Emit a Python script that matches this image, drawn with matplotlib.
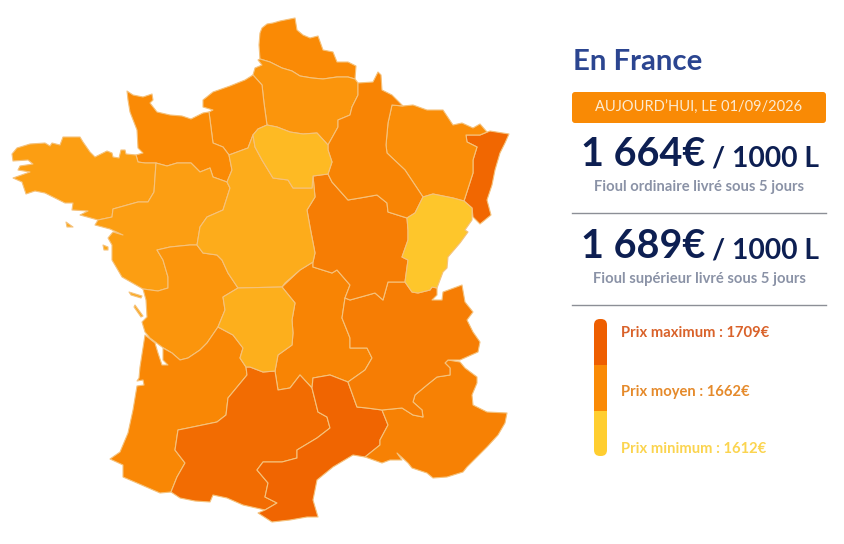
import matplotlib
matplotlib.use("Agg")
import matplotlib.pyplot as plt
from matplotlib.colors import LinearSegmentedColormap, Normalize
from matplotlib.patches import FancyBboxPatch, Polygon, Rectangle

plt.rcParams["font.family"] = ["Lato", "DejaVu Sans"]

nord = [(260,33),(262,28),(267,24),(273,23),(280,21),(295,18),(297,30),(303,35),(310,38),(318,36),(323,50),(333,52),(337,62),(348,62),(356,66),(355,79),(348,77),(337,77),(323,79),(312,78),(300,76),(292,71),(282,68),(270,62),(260,59),(259,45)]
picardie = [(258,60),(260,59),(270,62),(282,68),(292,71),(300,76),(312,78),(323,79),(337,77),(348,77),(355,79),(358,83),(358,95),(352,107),(350,115),(338,120),(338,127),(328,145),(317,133),(303,134),(290,132),(277,127),(267,125),(264,103),(262,85),(253,75),(255,68),(262,65)]
idf = [(253,135),(258,129),(267,125),(277,127),(290,132),(303,134),(317,133),(328,145),(328,150),(332,162),(328,174),(313,176),(312,188),(293,188),(288,180),(273,178),(262,160),(255,147)]
haute_normandie = [(253,75),(245,80),(230,86),(213,92),(203,100),(203,107),(213,110),(209,112),(213,143),(223,147),(229,155),(248,148),(253,135),(258,129),(267,125),(264,103),(262,85)]
basse_normandie = [(127,91),(133,95),(143,97),(152,94),(153,100),(150,103),(157,112),(170,115),(182,116),(191,119),(203,113),(209,112),(213,143),(223,147),(229,155),(232,170),(227,182),(213,177),(210,168),(200,172),(191,163),(177,163),(167,166),(156,163),(145,163),(138,162),(136,155),(143,153),(138,148),(137,130),(130,112),(128,100)]
bretagne = [(136,155),(126,154),(125,150),(121,150),(119,158),(113,157),(112,153),(107,151),(95,157),(90,152),(83,142),(80,137),(72,137),(63,137),(60,145),(52,143),(50,146),(45,143),(30,144),(17,148),(12,154),(13,161),(28,160),(33,164),(20,166),(18,170),(30,172),(13,178),(22,182),(26,194),(35,191),(45,193),(55,198),(65,203),(73,203),(72,210),(88,211),(80,215),(98,220),(112,217),(113,209),(138,202),(148,202),(154,192),(156,163),(145,163),(138,162)]
belle_ile = [(66,222),(73,227),(67,227)]
noirmoutier = [(103,245),(108,247),(108,250),(104,250)]
ile_re = [(129,292),(142,296),(141,298),(131,295)]
oleron = [(135,305),(143,316),(141,317),(134,307)]
pays_de_loire = [(98,220),(95,225),(110,229),(123,235),(113,232),(108,238),(112,245),(112,260),(122,277),(143,289),(158,291),(168,288),(168,277),(163,260),(157,250),(170,247),(190,245),(197,245),(200,227),(207,217),(223,210),(230,188),(227,182),(213,177),(210,168),(200,172),(191,163),(177,163),(167,166),(156,163),(154,192),(148,202),(138,202),(113,209),(112,217)]
centre = [(229,155),(248,148),(253,135),(255,147),(262,160),(273,178),(288,180),(293,188),(312,188),(313,176),(315,197),(307,210),(310,227),(315,253),(313,262),(300,270),(285,283),(282,287),(238,288),(228,273),(222,260),(217,255),(203,253),(197,245),(200,227),(207,217),(223,210),(230,188),(227,182),(232,170)]
poitou = [(143,289),(158,291),(168,288),(168,277),(163,260),(157,250),(170,247),(190,245),(197,245),(203,253),(217,255),(222,260),(228,273),(238,288),(223,297),(225,310),(218,327),(207,343),(200,350),(188,358),(180,360),(172,353),(162,347),(150,338),(145,332),(142,322),(147,317),(146,300)]
aquitaine = [(145,335),(140,367),(139,378),(137,381),(143,380),(144,385),(137,386),(133,410),(128,433),(120,452),(110,459),(123,465),(123,477),(137,483),(160,493),(171,492),(177,477),(185,463),(175,450),(178,430),(188,428),(217,422),(226,415),(228,398),(247,375),(246,367),(240,358),(243,348),(233,335),(218,327),(207,343),(200,350),(188,358),(180,360),(172,353),(163,348),(163,360),(168,365),(162,365),(158,353),(155,343)]
limousin = [(238,288),(282,287),(295,303),(292,320),(293,333),(292,345),(278,355),(275,371),(263,372),(250,367),(246,367),(240,358),(243,348),(233,335),(218,327),(225,310),(223,297)]
auvergne = [(282,287),(300,270),(313,262),(313,267),(332,273),(337,270),(350,285),(345,298),(342,318),(350,338),(350,348),(367,348),(372,358),(365,370),(348,382),(330,375),(313,378),(312,388),(300,375),(290,388),(278,390),(275,371),(278,355),(292,345),(293,333),(292,320),(295,303)]
midi_pyrenees = [(246,367),(250,367),(263,372),(275,371),(278,390),(290,388),(300,375),(312,388),(318,412),(327,417),(330,428),(317,438),(297,450),(297,458),(282,462),(263,462),(257,470),(268,483),(265,497),(277,503),(265,510),(243,505),(227,498),(213,495),(210,502),(195,501),(180,498),(171,492),(177,477),(185,463),(175,450),(178,430),(188,428),(217,422),(226,415),(228,398),(247,375)]
languedoc = [(312,388),(313,378),(330,375),(348,382),(357,407),(367,408),(382,410),(388,425),(380,440),(380,445),(365,457),(353,455),(333,467),(317,480),(313,500),(318,517),(307,517),(290,520),(272,522),(258,513),(265,510),(277,503),(265,497),(268,483),(257,470),(263,462),(282,462),(297,458),(297,450),(317,438),(330,428),(327,417),(318,412)]
paca = [(382,410),(402,408),(413,415),(423,417),(422,410),(413,402),(415,395),(427,385),(437,377),(450,375),(450,368),(445,363),(448,360),(460,362),(465,368),(477,377),(477,383),(472,395),(473,405),(487,412),(507,413),(505,423),(498,435),(487,447),(477,457),(467,467),(463,472),(447,477),(433,478),(427,473),(412,468),(408,463),(397,453),(402,460),(390,460),(382,463),(365,457),(380,445),(380,440),(388,425)]
rhone_alpes = [(345,298),(350,300),(368,295),(375,293),(383,300),(388,282),(405,282),(412,292),(418,293),(430,290),(432,287),(437,288),(437,295),(432,300),(442,300),(443,292),(462,285),(465,302),(473,312),(467,320),(473,332),(480,342),(478,352),(460,360),(448,360),(445,363),(450,368),(450,375),(437,377),(427,385),(415,395),(413,402),(422,410),(423,417),(413,415),(402,408),(382,410),(367,408),(357,407),(348,382),(365,370),(372,358),(367,348),(350,348),(350,338),(342,318)]
bourgogne = [(313,176),(328,174),(332,182),(348,200),(360,198),(377,195),(387,203),(388,212),(407,218),(408,230),(408,240),(402,257),(408,260),(405,282),(388,282),(383,300),(375,293),(368,295),(350,300),(345,298),(350,285),(337,270),(332,273),(313,267),(313,262),(315,253),(310,227),(307,210),(315,197)]
franche_comte = [(407,218),(415,213),(423,197),(433,194),(453,198),(464,201),(472,208),(472,220),(465,230),(468,232),(460,243),(448,257),(447,268),(443,272),(437,288),(432,287),(430,290),(418,293),(412,292),(405,282),(408,260),(402,257),(408,240),(408,230)]
alsace = [(466,135),(480,135),(490,131),(509,134),(505,143),(500,153),(495,170),(492,185),(487,200),(491,215),(480,224),(473,217),(472,208),(464,201),(473,173),(473,160),(477,147),(467,142)]
lorraine = [(392,105),(403,106),(413,105),(427,110),(443,110),(453,125),(462,123),(473,128),(480,124),(487,132),(480,135),(466,135),(467,142),(477,147),(473,160),(473,173),(464,201),(453,198),(433,194),(423,197),(415,185),(405,170),(387,153),(386,145),(388,123)]
champagne = [(358,83),(373,82),(378,72),(381,75),(382,90),(392,95),(403,106),(392,105),(388,123),(386,145),(387,153),(405,170),(415,185),(423,197),(415,213),(407,218),(388,212),(387,203),(377,195),(360,198),(348,200),(332,182),(328,174),(332,162),(328,150),(328,145),(338,127),(338,120),(350,115),(352,107),(358,95)]

# estimated price of each region (EUR per 1000 L), read from the colours
regions = [nord, picardie, haute_normandie, basse_normandie, bretagne, belle_ile, noirmoutier, pays_de_loire, poitou, ile_re, oleron, aquitaine, auvergne, midi_pyrenees, languedoc, paca, rhone_alpes, bourgogne, alsace, lorraine, champagne, centre, limousin, idf, franche_comte]
prices = [1662, 1654, 1662, 1662, 1647, 1640, 1640, 1647, 1654, 1640, 1640, 1665, 1668, 1694, 1701, 1672, 1676, 1676, 1699, 1660, 1668, 1637, 1635, 1627, 1618]

title = "En France"
date_label = "AUJOURD’HUI, LE 01/09/2026"
price_labels = ["1 664€", "1 689€"]
unit_label = "/ 1000 L"
fuel_labels = ["Fioul ordinaire livré sous 5 jours", "Fioul supérieur livré sous 5 jours"]
legend_labels = ["Prix maximum : 1709€", "Prix moyen : 1662€", "Prix minimum : 1612€"]
legend_colors = ["#EE5E00", "#FA8A05", "#FFCE30"]
legend_text_colors = ["#D9622A", "#E58A2B", "#FBD44F"]

pmin, pmid, pmax = 1612, 1662, 1709
cmap = LinearSegmentedColormap.from_list(
    "fioul", [(0, "#FFCE30"), ((pmid - pmin) / (pmax - pmin), "#FA8A05"), (1, "#EE5E00")])
norm = Normalize(pmin, pmax)

fig = plt.figure(figsize=(8.44, 5.44), dpi=100)
ax = fig.add_axes([0, 0, 1, 1])
ax.set_xlim(0, 844)
ax.set_ylim(544, 0)
ax.axis("off")

for outline, price in zip(regions, prices):
    ax.add_patch(Polygon(outline, closed=True, facecolor=cmap(norm(price)),
                         edgecolor="#F5C27C", linewidth=0.8, joinstyle="round"))

ax.text(573, 59, title, fontsize=21.2, fontweight="bold", color="#2B4590", va="center_baseline")

ax.add_patch(FancyBboxPatch((574, 94), 250, 27, boxstyle="round,pad=2,rounding_size=3",
                            facecolor="#F98A05", edgecolor="none"))
ax.text(699, 108, date_label, fontsize=10.5, color="#FCEBD2", ha="center", va="center")

for y, price_label, fuel in zip([166, 258], price_labels, fuel_labels):
    ax.text(581, y, price_label, fontsize=28.5, fontweight="bold", color="#0D1F52")
    ax.text(712, y, unit_label, fontsize=20.3, fontweight="bold", color="#0D1F52")
    ax.text(699, y + 21, fuel, fontsize=10.6, fontweight="bold", color="#8A92A6", ha="center", va="center")

for y in [213, 305]:
    ax.plot([572, 826], [y, y], color="#8C8F96", linewidth=1)

# colour bar of the legend, rounded at both ends
bar = FancyBboxPatch((594, 319), 13, 137, boxstyle="round,pad=0,rounding_size=6",
                     facecolor="none", edgecolor="none")
ax.add_patch(bar)
for y, color in zip([319, 365, 411], legend_colors):
    seg = Rectangle((594, y), 13, 46, facecolor=color, edgecolor="none")
    ax.add_patch(seg)
    seg.set_clip_path(bar)

for y, label, color in zip([333, 392, 449], legend_labels, legend_text_colors):
    ax.text(621, y, label, fontsize=10.6, fontweight="bold", color=color, va="center")

fig.savefig("out.png", dpi=100)
